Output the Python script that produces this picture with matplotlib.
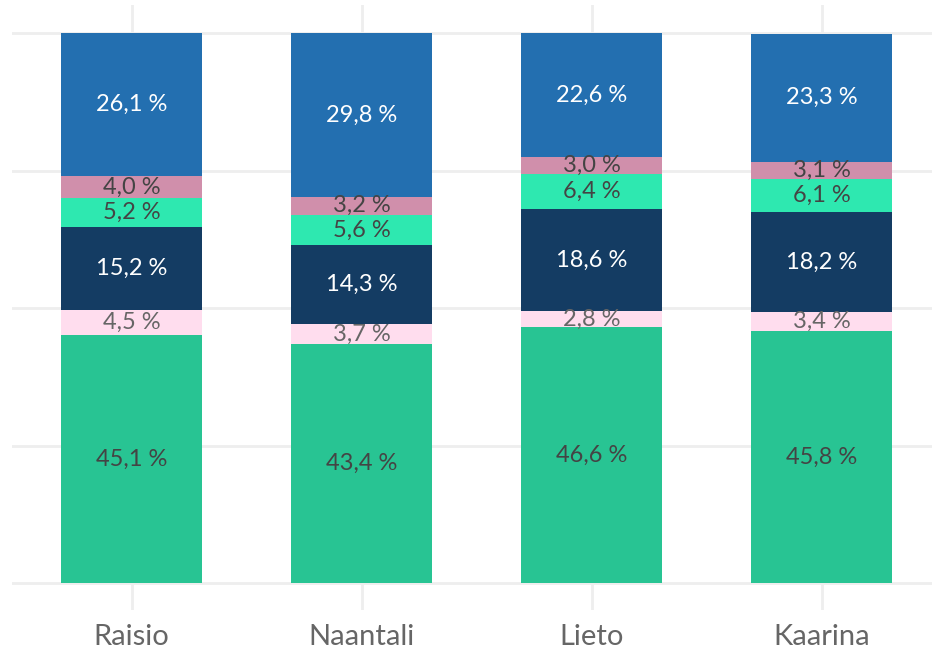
import matplotlib
matplotlib.use("Agg")
import matplotlib.pyplot as plt
import numpy as np

categories = ["Raisio", "Naantali", "Lieto", "Kaarina"]
s1 = [45.1, 43.4, 46.6, 45.8]   # green
s2 = [4.5, 3.7, 2.8, 3.4]       # light pink
s3 = [15.2, 14.3, 18.6, 18.2]   # navy
s4 = [5.2, 5.6, 6.4, 6.1]       # mint
s5 = [4.0, 3.2, 3.0, 3.1]       # mauve
s6 = [26.1, 29.8, 22.6, 23.3]   # blue

series = [s1, s2, s3, s4, s5, s6]
colors = ["#28C493", "#FFDDEE", "#143C63", "#2EE8B0", "#D08FAB", "#236FB0"]
text_colors = ["#444444", "#666666", "#FFFFFF", "#444444", "#444444", "#FFFFFF"]

plt.rcParams['font.family'] = ['Lato', 'DejaVu Sans']

fig = plt.figure(figsize=(9.33, 6.51), dpi=100)
ax = fig.add_axes([12/933, 41/651, 920/933, 605/651])

x = np.arange(len(categories))
bottom = np.zeros(len(categories))
for vals, c, tc in zip(series, colors, text_colors):
    vals = np.array(vals)
    ax.bar(x, vals, bottom=bottom, width=0.615, color=c, zorder=2, linewidth=0)
    for xi, b, v in zip(x, bottom, vals):
        ax.text(xi, b + v / 2, f"{v:.1f} %".replace(".", ","), ha="center", va="center",
                color=tc, fontsize=17, zorder=3)
    bottom += vals

ax.set_xlim(-0.52, 3.48)
ax.set_ylim(-4.9, 105.1)
ax.set_yticks([0, 25, 50, 75, 100])
ax.set_yticklabels([])
ax.set_xticks(x)
ax.set_xticklabels(categories, fontsize=21, color="#666666")
ax.tick_params(axis="both", length=0, pad=10)
ax.grid(True, color="#EEEEEE", linewidth=2, zorder=0)
for s in ax.spines.values():
    s.set_visible(False)

fig.savefig("out.png", dpi=100)
